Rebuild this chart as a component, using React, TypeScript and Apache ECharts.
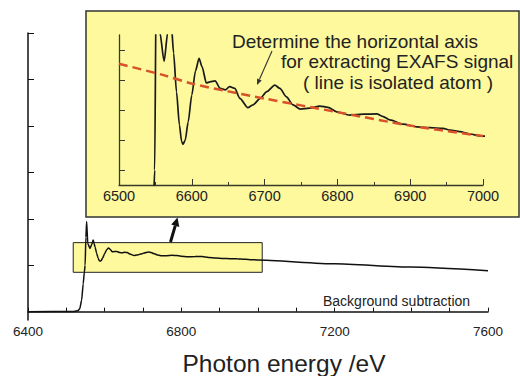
import React, { useEffect, useRef } from "react";
import * as echarts from "echarts";

// Photon energy (eV) and absorption (arbitrary units)
const energy = [6400, 6520, 6530, 6535, 6540, 6544, 6547, 6549, 6551, 6553, 6556, 6562, 6567, 6570, 6572, 6575, 6579, 6583, 6586, 6588, 6591, 6595, 6600, 6605, 6610, 6614, 6620, 6625, 6632, 6639, 6646, 6652, 6659, 6666, 6677, 6684, 6694, 6703, 6714, 6721, 6730, 6739, 6749, 6762, 6776, 6787, 6799, 6817, 6836, 6854, 6863, 6872, 6890, 6909, 6927, 6945, 6955, 6968, 6982, 6998, 7200, 7400, 7600];
const absorption = [0, 0.05, 0.2, 0.6, 2.5, 6, 8.5, 10, 16, 19.4, 14.6, 13.62, 14.6, 15.4, 14.8, 13.9, 12.6, 11.5, 10.95, 10.86, 11.0, 11.6, 12.5, 13.3, 13.72, 13.45, 12.9, 12.94, 12.97, 12.72, 12.67, 12.78, 12.72, 12.39, 12.08, 12.17, 12.39, 12.61, 12.83, 12.72, 12.44, 12.17, 12.03, 12.06, 12.13, 12.09, 11.94, 11.83, 11.86, 11.87, 11.78, 11.67, 11.53, 11.44, 11.41, 11.39, 11.33, 11.28, 11.2, 11.13, 10.3, 9.6, 8.82];

// Isolated-atom background (red dashed line in the inset)
const isoEnergy = [6500, 6560, 6600, 6650, 6700, 6800, 6900, 7000];
const isoValue = [13.54, 13.17, 12.88, 12.62, 12.38, 11.93, 11.48, 11.13];

// Zoomed window marked on the main chart
const zoomBox = { x0: 6518, x1: 7011, y0: 8.47, y1: 14.86 };

const mainXLabels = [6400, 6800, 7200, 7600];
const mainYTicks = [0, 10, 20, 30, 40, 50, 60];
const insetYTicks = [10, 11, 12, 13, 14];

const FONT = '"Liberation Sans", Arial, Helvetica, sans-serif';
const YELLOW = "#FDF99C";

export default function App() {
  const ref = useRef<HTMLDivElement>(null);
  useEffect(() => {
    if (!ref.current) return;
    const chart = echarts.init(ref.current, null, { renderer: "svg" });
    const spectrum = energy.map((e, i) => [e, absorption[i]]);
    const iso = isoEnergy.map((e, i) => [e, isoValue[i]]);
    const fmt = (v: number) => String(v);
    chart.setOption({
      animation: false,
      backgroundColor: "#ffffff",
      grid: [
        { left: 28, top: 33, width: 460, height: 287 },
        { left: 119, top: 35, width: 364, height: 150 },
      ],
      xAxis: [
        {
          type: "value", gridIndex: 0, min: 6400, max: 7600, interval: 100,
          axisLine: { lineStyle: { color: "#111", width: 1.5 } },
          axisTick: { inside: true, length: 4, lineStyle: { color: "#111", width: 1 } },
          axisLabel: { customValues: mainXLabels, formatter: fmt, margin: 4, color: "#222", fontSize: 13.5, fontFamily: FONT },
          splitLine: { show: false },
        },
        {
          type: "value", gridIndex: 1, min: 6500, max: 7000, interval: 100,
          axisLine: { lineStyle: { color: "#3a3a2a", width: 1.3 } },
          axisTick: { inside: true, length: 6, lineStyle: { color: "#3a3a2a", width: 1 } },
          minorTick: { show: true, splitNumber: 2, length: 3, lineStyle: { color: "#3a3a2a", width: 1 } },
          axisLabel: { formatter: fmt, margin: 3, color: "#222", fontSize: 14.5, fontFamily: FONT },
          splitLine: { show: false },
        },
      ],
      yAxis: [
        {
          type: "value", gridIndex: 0, min: -1.8, max: 60,
          axisLine: { show: true, lineStyle: { color: "#111", width: 1.5 } },
          axisTick: { show: true, inside: true, length: 6, customValues: mainYTicks, lineStyle: { color: "#111", width: 1 } },
          axisLabel: { show: false },
          splitLine: { show: false },
        },
        {
          type: "value", gridIndex: 1, min: 9.5, max: 14.5,
          axisLine: { show: true, lineStyle: { color: "#3a3a2a", width: 1.3 } },
          axisTick: { show: true, inside: true, length: 6, customValues: insetYTicks, lineStyle: { color: "#3a3a2a", width: 1 } },
          axisLabel: { show: false },
          splitLine: { show: false },
        },
      ],
      series: [
        {
          type: "line", xAxisIndex: 0, yAxisIndex: 0, data: spectrum,
          symbol: "none", smooth: 0.2, smoothMonotone: "x",
          lineStyle: { color: "#111", width: 1.5 },
          markArea: {
            silent: true,
            itemStyle: { color: YELLOW, borderColor: "#222", borderWidth: 1 },
            data: [[{ coord: [zoomBox.x0, zoomBox.y1] }, { coord: [zoomBox.x1, zoomBox.y0] }]],
          },
          z: 3,
        },
        {
          type: "line", xAxisIndex: 1, yAxisIndex: 1, data: spectrum,
          symbol: "none", smooth: 0.25, smoothMonotone: "x", clip: true,
          lineStyle: { color: "#1a1a1a", width: 1.7 },
          z: 3,
        },
        {
          type: "line", xAxisIndex: 1, yAxisIndex: 1, data: iso,
          symbol: "none", smooth: 0.3, clip: true,
          lineStyle: { color: "#D8512A", width: 2.5, type: [9, 5] },
          z: 4,
        },
      ],
      graphic: [
        {
          type: "rect", z: -10, silent: true,
          shape: { x: 86, y: 11, width: 433, height: 206 },
          style: { fill: YELLOW, stroke: "#333", lineWidth: 1.5 },
        },
        {
          type: "text", z: 50, x: 232, y: 41,
          style: { text: "Determine the horizontal axis", font: `19px ${FONT}`, fill: "#222", align: "left", verticalAlign: "middle" },
        },
        {
          type: "text", z: 50, x: 281, y: 61,
          style: { text: "for extracting EXAFS signal", font: `19px ${FONT}`, fill: "#222", align: "left", verticalAlign: "middle" },
        },
        {
          type: "text", z: 50, x: 303, y: 82,
          style: { text: "( line is isolated atom )", font: `19px ${FONT}`, fill: "#222", align: "left", verticalAlign: "middle" },
        },
        {
          type: "line", z: 50,
          shape: { x1: 272, y1: 51, x2: 259.4, y2: 79.5 },
          style: { stroke: "#333", lineWidth: 1.1 },
        },
        {
          type: "polygon", z: 50,
          shape: { points: [[257, 85], [261.7, 80.5], [257.1, 78.5]] },
          style: { fill: "#333" },
        },
        {
          type: "line", z: 50,
          shape: { x1: 170.5, y1: 242, x2: 175.3, y2: 225.7 },
          style: { stroke: "#111", lineWidth: 3 },
        },
        {
          type: "polygon", z: 50,
          shape: { points: [[177.5, 217.5], [179.3, 227], [171.2, 224.6]] },
          style: { fill: "#111" },
        },
        {
          type: "text", z: 50, x: 323, y: 300.5,
          style: { text: "Background subtraction", font: `14px ${FONT}`, fill: "#222", align: "left", verticalAlign: "middle" },
        },
        {
          type: "text", z: 50, x: 284, y: 363,
          style: { text: "Photon energy /eV", font: `24.5px ${FONT}`, fill: "#222", align: "center", verticalAlign: "middle" },
        },
      ],
    });
    return () => chart.dispose();
  }, []);
  return (
    <div
      ref={ref}
      style={{ position: "fixed", left: 0, top: 0, width: 520, height: 376, background: "#fff" }}
    />
  );
}
